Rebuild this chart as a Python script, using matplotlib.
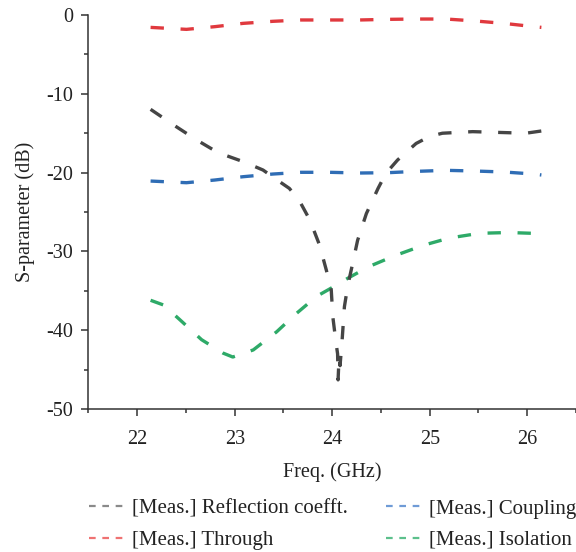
import matplotlib
matplotlib.use("Agg")
import matplotlib.pyplot as plt
from matplotlib.lines import Line2D
from matplotlib.ticker import MultipleLocator

plt.rcParams['font.family'] = ['Liberation Serif', 'DejaVu Serif']
plt.rcParams['axes.unicode_minus'] = False

# Through (red)
f_thr = [22.137, 22.505, 22.795, 23.085, 23.39, 23.68, 23.97, 24.28, 24.57, 24.86, 25.17, 25.47, 25.76, 26.07, 26.145]
s_thr = [-1.57, -1.82, -1.48, -1.06, -0.80, -0.63, -0.63, -0.63, -0.55, -0.51, -0.51, -0.76, -1.06, -1.48, -1.57]

# Coupling (blue)
f_cpl = f_thr
s_cpl = [-21.07, -21.28, -20.94, -20.52, -20.18, -19.96, -19.96, -20.05, -20.01, -19.84, -19.71, -19.80, -19.92, -20.18, -20.30]

# Reflection coefficient (dark gray)
f_ref = [22.137, 22.40, 22.61, 22.83, 23.085, 23.29, 23.46, 23.56, 23.66, 23.77, 23.87, 23.94, 23.99,
         24.006, 24.04, 24.055, 24.06, 24.07, 24.08, 24.10, 24.125, 24.16, 24.21, 24.26, 24.35, 24.47,
         24.55, 24.67, 24.86, 25.0, 25.13, 25.44, 25.71, 25.985, 26.155]
s_ref = [-11.97, -14.17, -15.86, -17.47, -18.6, -19.67, -21.15, -22.0, -23.5, -26.0, -29.2, -32.4, -34.9,
         -38.3, -41.7, -43.0, -46.3, -43.4, -44.5, -41.5, -37.0, -34.3, -31.5, -28.6, -25.2, -22.0,
         -20.1, -18.4, -16.3, -15.4, -15.0, -14.8, -14.9, -15.0, -14.7]

# Isolation (green)
f_iso = [22.137, 22.27, 22.44, 22.66, 22.88, 22.98, 23.19, 23.43, 23.63, 23.84, 24.04, 24.16, 24.38,
         24.65, 24.94, 25.2, 25.51, 25.81, 26.05, 26.155]
s_iso = [-36.2, -36.8, -38.7, -41.2, -42.9, -43.4, -42.5, -40.2, -37.9, -35.7, -34.3, -33.4, -31.9,
         -30.5, -29.2, -28.3, -27.7, -27.6, -27.7, -27.3]

x_ticks = [22, 23, 24, 25, 26]
y_ticks = [0, -10, -20, -30, -40, -50]
labels = ["[Meas.] Reflection coefft.", "[Meas.] Through", "[Meas.] Coupling", "[Meas.] Isolation"]

c_ref, c_thr, c_cpl, c_iso = "#454545", "#e0393e", "#2f6db5", "#2eaa68"
lc_ref, lc_thr, lc_cpl, lc_iso = "#8a8a8a", "#ef7272", "#6f9bd6", "#5cc08c"

fig = plt.figure(figsize=(5.76, 5.52), dpi=100)
ax = fig.add_axes([0.1536, 0.259, 0.8464, 0.7138])

ls = (0, (4.0, 5.0))
lw = 2.4
ax.plot(f_thr, s_thr, color=c_thr, lw=lw, ls=ls)
ax.plot(f_cpl, s_cpl, color=c_cpl, lw=lw, ls=ls)
ax.plot(f_iso, s_iso, color=c_iso, lw=lw, ls=ls)
ax.plot(f_ref, s_ref, color=c_ref, lw=lw, ls=ls)

ax.set_xlim(21.5, 26.5)
ax.set_ylim(-50, 0)
ax.set_xticks(x_ticks)
ax.set_yticks(y_ticks)
ax.xaxis.set_minor_locator(MultipleLocator(0.5))
ax.yaxis.set_minor_locator(MultipleLocator(5))
for s in ["top", "right"]:
    ax.spines[s].set_visible(False)
for s in ["left", "bottom"]:
    ax.spines[s].set_linewidth(1.1)
    ax.spines[s].set_color("#333333")
ax.tick_params(which="major", direction="out", length=5, width=1.1, color="#333333",
               labelsize=14.5, labelcolor="#222222")
ax.tick_params(axis="x", which="major", pad=10)
ax.tick_params(axis="y", which="major", pad=6)
ax.tick_params(which="minor", direction="out", length=3, width=1.1, color="#333333")
ax.set_xlabel("Freq. (GHz)", fontsize=14.5, color="#222222", labelpad=10)
ax.set_ylabel("S-parameter (dB)", fontsize=14.5, color="#222222", labelpad=8)

handles = [Line2D([], [], color=lc_ref, lw=1.6, ls=(0, (3, 3))),
           Line2D([], [], color=lc_thr, lw=1.6, ls=(0, (3, 3))),
           Line2D([], [], color=lc_cpl, lw=1.6, ls=(0, (3, 3))),
           Line2D([], [], color=lc_iso, lw=1.6, ls=(0, (3, 3)))]
fig.legend(handles, labels, ncol=2, frameon=False, loc="center left",
           bbox_to_anchor=(0.1545, 0.0498), fontsize=15, handlelength=1.63,
           handletextpad=0.45, columnspacing=1.8, labelspacing=0.55,
           labelcolor="#222222", borderpad=0, borderaxespad=0)

fig.savefig("out.png", dpi=100)
